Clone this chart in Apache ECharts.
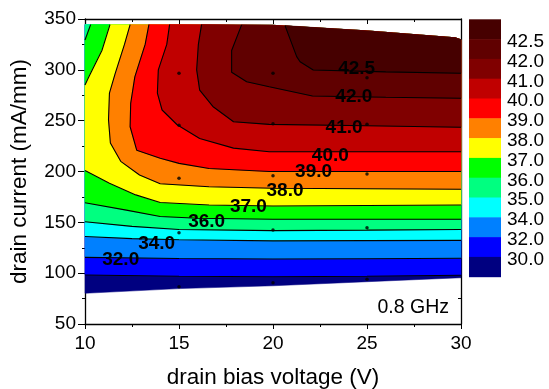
<!DOCTYPE html>
<html><head><meta charset="utf-8">
<script src="https://cdn.jsdelivr.net/npm/echarts@6/dist/echarts.min.js"></script>
<style>html,body{margin:0;padding:0;background:#fff}#c{width:549px;height:389px}</style>
</head><body><div id="c"></div>
<script>
// ---- contour levels and band colours (band i lies between levels[i-1] and levels[i]) ----
const levels = [30, 32, 34, 35, 36, 37, 38, 39, 40, 41, 42, 42.5];
const bandColors = ['#000080','#0000ff','#0080ff','#00ffff','#00ff80','#00ff00','#ffff00','#ff8000','#ff0000','#c00000','#800000','#600000','#460000'];

// ---- measured data domain (V, mA/mm) ----
const topEdge    = [[10,344.5],[20,343.8],[25,338.3],[29.7,331.5],[30,329.5]];
const bottomEdge = [[10,80.2],[15,84.8],[20,87.6],[25,91.6],[30,95.5]];

// ---- contour lines ----
const line30 = [[10,98.2],[15,97],[20,96.5],[25,97],[30,98]];
const line32 = [[10,115.5],[15,114.5],[20,114],[25,114.2],[30,114.6]];
const line34 = [[10,136],[12.5,134],[15,132.8],[20,131.8],[25,132],[30,132.3]];
const line35 = [[10,150.5],[12.5,146],[15,143],[20,141.8],[25,142.3],[30,143]];
const line36 = [[10,169.3],[12.2,162],[14,155.8],[16,154],[20,153],[25,153],[30,153]];
const corner36 = [[10.3,344.5],[10,329.4]];
const line37 = [[10,201],[11.3,188.5],[12.7,177],[14,169.5],[16.6,167],[20,166],[25,166.5],[30,167]];
const corner37 = [[11.33,344.5],[10.9,319],[10.2,293],[10,285]];
const line38 = [[12.4,344.5],[12.1,325],[11.6,296],[11.3,277],[11.25,251],[11.35,228],[11.9,210],[12.9,196.5],[14,188],[16.6,185],[20,183.5],[25,183],[30,182.5]];
const line39 = [[13.4,344.5],[13.2,325],[12.65,293],[12.43,267],[12.4,244],[12.75,221],[14,213],[15,208],[16.6,203],[19.8,200],[25,200],[30,200]];
const line40 = [[14.5,344.5],[14.35,325],[13.9,300],[13.85,277],[14.1,260.5],[14.9,246],[16.1,232.5],[17.9,223],[19.8,219.5],[25,219.5],[30,219.5]];
const line41 = [[16.2,344.5],[16.03,325],[15.94,300],[16.1,280],[16.8,264],[17.9,249],[19.8,246.4],[25,245],[30,243.5]];
const line42 = [[18.33,344.2],[17.8,319],[17.8,297.6],[18.6,288.3],[19.8,283.4],[22.1,274.3],[26,273],[30,272]];
const line425 = [[20.64,343.5],[21.26,313],[21.44,308],[22.14,299.8],[26,298],[30,296.6]];

const contourMain   = [line30, line32, line34, line35, line36, line37, line38, line39, line40, line41, line42, line425];
const contourCorner = [null, null, null, null, corner36, corner37, null, null, null, null, null, null];

// ---- contour labels: [V, mA/mm, text] ----
const contourLabels = [
  [24.45,301.5,'42.5'],[24.3,274,'42.0'],[23.78,243.5,'41.0'],[23.05,215.5,'40.0'],
  [22.16,199.8,'39.0'],[20.64,181.1,'38.0'],[18.69,165.4,'37.0'],[16.47,150.6,'36.0'],
  [13.81,129.4,'34.0'],[11.9,113,'32.0']
];

// ---- measurement points ----
const samplePoints = [
  [15,296.6],[15,245.5],[15,193.3],[15,139.8],[15,86.7],
  [20,296.6],[20,247],[20,195.9],[20,142.5],[20,90.6],
  [25,292.3],[25,246.4],[25,197.5],[25,144.7],[25,94]
];

const xTicks = {min:10, max:30, interval:5};
const yTicks = {min:50, max:350, interval:50};

function regionPoly(main, corner) {
  const pts = main.slice();
  const startX = corner ? corner[0][0] : main[0][0];
  for (let i = topEdge.length - 1; i >= 0; i--) {
    if (topEdge[i][0] >= startX) pts.push(topEdge[i]);
  }
  if (corner) corner.forEach(p => pts.push(p));
  return pts;
}
const domainPoly = bottomEdge.concat(topEdge.slice().reverse());
const bandPolys = [domainPoly].concat(contourMain.map((m, i) => regionPoly(m, contourCorner[i])));

const FONT = 'Liberation Sans, Arial, sans-serif';
const chart = echarts.init(document.getElementById('c'), null, {renderer:'canvas'});

const axisCommon = {
  type:'value', splitLine:{show:false},
  axisLine:{show:true, onZero:false, lineStyle:{color:'#000', width:1.3}},
  minorTick:{show:true, splitNumber:2, length:3, lineStyle:{color:'#000', width:1}},
  minorSplitLine:{show:false}
};

const lineSeries = [];
contourMain.forEach(m => lineSeries.push(m));
contourCorner.forEach(c => { if (c) lineSeries.push(c); });

const cbLeft = 469, cbTop = 19.3, cbW = 32, cbH = 19.8;
const graphics = [];
for (let j = 0; j < bandColors.length; j++) {
  const bandIdx = bandColors.length - 1 - j;
  graphics.push({type:'rect', shape:{x:cbLeft, y:cbTop + j*cbH, width:cbW, height:cbH + 0.5}, style:{fill:bandColors[bandIdx]}});
}
levels.forEach((lv, k) => {
  graphics.push({type:'text', x:507, y:cbTop + (levels.length - k)*cbH + 2.6,
    style:{text: lv.toFixed(1), font:'19px ' + FONT, fill:'#000', verticalAlign:'middle', align:'left'}});
});
graphics.push({type:'text', x:449, y:307.5, style:{text:'0.8 GHz', font:'19.5px ' + FONT, fill:'#000', align:'right', verticalAlign:'middle'}});

const option = {
  animation:false,
  backgroundColor:'#fff',
  grid:{left:85, right:88, top:19, bottom:65, containLabel:false, outerBoundsMode:'none'},
  xAxis:[
    Object.assign({}, axisCommon, {position:'bottom', min:xTicks.min, max:xTicks.max, interval:xTicks.interval,
      axisTick:{show:true, length:5, inside:false, lineStyle:{color:'#000', width:1}},
      axisLabel:{fontSize:19, color:'#000', fontFamily:FONT, margin:10},
      name:'drain bias voltage (V)', nameLocation:'middle', nameGap:42,
      nameTextStyle:{fontSize:22.5, color:'#000', fontFamily:FONT}}),
    Object.assign({}, axisCommon, {position:'top', min:xTicks.min, max:xTicks.max, interval:xTicks.interval,
      axisTick:{show:true, length:5, inside:true, lineStyle:{color:'#000', width:1}},
      axisLabel:{show:false}})
  ],
  yAxis:[
    Object.assign({}, axisCommon, {position:'left', min:yTicks.min, max:yTicks.max, interval:yTicks.interval,
      axisTick:{show:true, length:7, inside:false, lineStyle:{color:'#000', width:1}},
      axisLabel:{fontSize:19, color:'#000', fontFamily:FONT, margin:9},
      name:'drain current (mA/mm)', nameLocation:'middle', nameGap:54, nameRotate:90,
      nameTextStyle:{fontSize:22.5, color:'#000', fontFamily:FONT}}),
    Object.assign({}, axisCommon, {position:'right', min:yTicks.min, max:yTicks.max, interval:yTicks.interval,
      axisTick:{show:true, length:5, inside:true, lineStyle:{color:'#000', width:1}},
      axisLabel:{show:false}})
  ],
  series:[
    {
      type:'custom', coordinateSystem:'cartesian2d', xAxisIndex:0, yAxisIndex:0, z:1,
      encode:{x:0, y:1},
      data: bandPolys.map((p, i) => [10, 50, i]),
      renderItem: function (params, api) {
        const idx = api.value(2);
        const pts = bandPolys[idx].map(p => api.coord(p));
        return {type:'polygon', shape:{points:pts}, style:{fill:bandColors[idx], stroke:bandColors[idx], lineWidth:0.5}};
      }
    }
  ].concat(lineSeries.map(l => ({
    type:'line', data:l, xAxisIndex:0, yAxisIndex:0, z:3, symbol:'none', silent:true,
    lineStyle:{color:'#000', width:1.1}
  }))).concat([
    {type:'scatter', data:samplePoints, symbolSize:3.5, itemStyle:{color:'#000'}, z:4, silent:true},
    {
      type:'custom', coordinateSystem:'cartesian2d', z:5, encode:{x:0, y:1},
      data: contourLabels,
      renderItem: function (params, api) {
        const c = api.coord([api.value(0), api.value(1)]);
        return {type:'text', x:c[0], y:c[1], style:{text: contourLabels[params.dataIndex][2],
          font:'bold 19px ' + FONT, fill:'#000', align:'center', verticalAlign:'middle'}};
      }
    }
  ]),
  graphic: graphics
};
chart.setOption(option);
</script></body></html>
